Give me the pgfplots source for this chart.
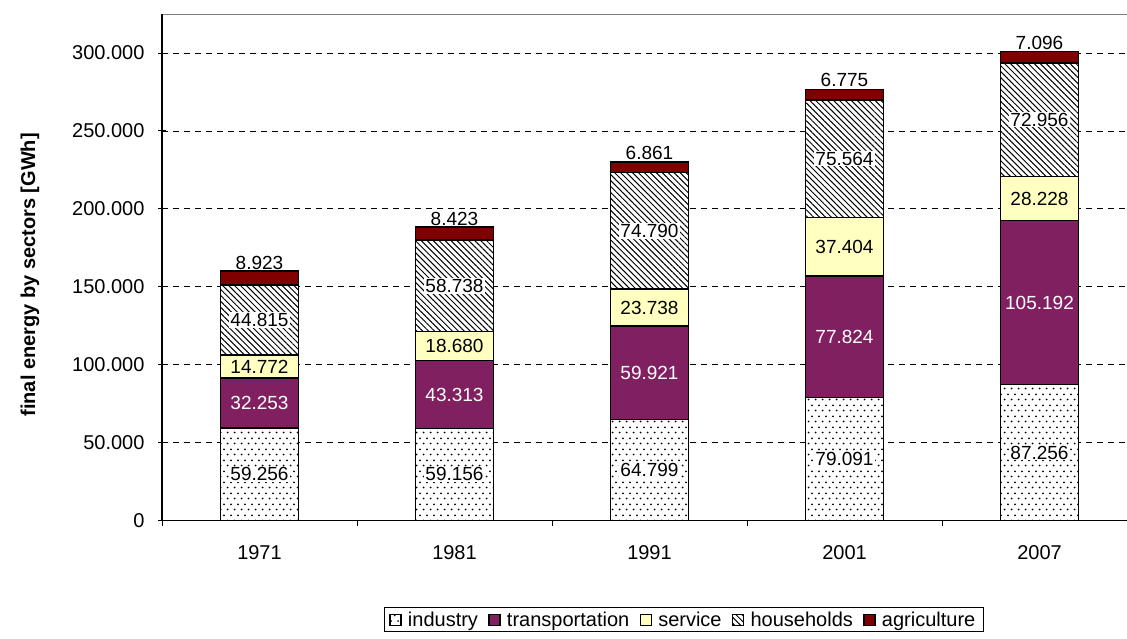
\documentclass[border=0pt]{standalone}
\usepackage{fontspec}
\setmainfont{Liberation Sans}
\usepackage{pgfplots}
\pgfplotsset{compat=1.18}
\usepackage{pgfplotstable}
\usetikzlibrary{patterns,patterns.meta}
\definecolor{trans}{HTML}{802060}
\definecolor{serv}{HTML}{FFFFC0}
\definecolor{agri}{HTML}{800000}
\pgfdeclarepatternformonly{mydots}{\pgfqpoint{0pt}{0pt}}{\pgfqpoint{7.3pt}{10.6pt}}{\pgfqpoint{7.3pt}{10.6pt}}{%
  \pgfpathcircle{\pgfqpoint{1.8pt}{2.6pt}}{1pt}%
  \pgfpathcircle{\pgfqpoint{5.45pt}{7.9pt}}{1pt}%
  \pgfusepath{fill}}
\pgfplotstableread{
x ind tra ser hou agr
0 59.256 32.253 14.772 44.815 8.923
1 59.156 43.313 18.680 58.738 8.423
2 64.799 59.921 23.738 74.790 6.861
3 79.091 77.824 37.404 75.564 6.775
4 87.256 105.192 28.228 72.956 7.096
}\data
\newcommand\fs{\fontsize{20}{24}\selectfont}
\newcommand\fl{\fontsize{19}{23}\selectfont}
\pgfplotsset{
  sq legend/.style={legend image code/.code={%
    \pgfpathrectangle{\pgfpoint{0pt}{-5.5pt}}{\pgfpoint{16pt}{11pt}}\pgfusepath{use as bounding box}%
    \draw[##1] (0pt,-5.5pt) rectangle (11pt,5.5pt);}},
  seg label/.style 2 args={
    point meta=\thisrow{#1},
    nodes near coords={\pgfmathprintnumber[fixed,fixed zerofill,precision=3,assume math mode=true]{\pgfplotspointmeta}},
    every node near coord/.style={font=\fl, anchor=center, #2},
  },
}
\begin{document}
\begin{tikzpicture}
\useasboundingbox (0,0) rectangle (1127pt,639pt);
\clip (0,0) rectangle (1127pt,639pt);
\begin{axis}[
  at={(162pt,118.5pt)}, anchor=south west,
  scale only axis, width=975pt, height=506.5pt,
  xmin=-0.5, xmax=4.5, ymin=0, ymax=325,
  ybar stacked, bar width=0.4,
  xtick={0,...,4}, xticklabels={1971,1981,1991,2001,2007},
  minor xtick={-0.5,0.5,...,4.5},
  ytick={0,50,...,300},
  yticklabels={0,50.000,100.000,150.000,200.000,250.000,300.000},
  tick pos=left,
  major x tick style={draw=none},
  minor tick length=6pt,
  minor x tick style={yshift=-6pt, black, line width=0.8pt},
  major tick length=8pt,
  ytick style={xshift=-4pt, black, line width=0.8pt},
  ymajorgrids,
  major grid style={black, line width=0.7pt, dash pattern=on 6pt off 5pt},
  axis line style={draw=gray, line width=0.9pt},
  yticklabel style={font=\fs, xshift=-14pt},
  xticklabel style={font=\fs, yshift=-22pt},
  ylabel={final energy by sectors [GWh]},
  ylabel style={font=\fs\bfseries, at={(axis description cs:-0.1354,0.485)}, anchor=center},
  legend style={at={(axis description cs:0.535,-0.196)}, anchor=center,
    draw=black, line width=0.8pt, font=\fs, legend columns=5,
    /tikz/every even column/.append style={column sep=9pt}, inner xsep=6pt, inner ysep=2pt},
  legend cell align=left,
  extra description/.code={\draw[black, line width=1.4pt] (0,1) -- (0,0) -- (1,0);},
]
\addplot[sq legend, draw=black, line width=1.3pt, fill=white, postaction={pattern=mydots},
  seg label={ind}{fill=white, inner sep=1pt}] table[x=x,y=ind]{\data};
\addlegendentry{industry}
\addplot[sq legend, draw=black, line width=1.3pt, fill=trans,
  seg label={tra}{text=white}] table[x=x,y=tra]{\data};
\addlegendentry{transportation}
\addplot[sq legend, draw=black, line width=1.3pt, fill=serv,
  seg label={ser}{}] table[x=x,y=ser]{\data};
\addlegendentry{service}
\addplot[sq legend, draw=black, line width=1.3pt, fill=white,
  postaction={pattern={Lines[angle=-45,distance=4.2pt,line width=1pt]}},
  seg label={hou}{fill=white, inner sep=1pt}] table[x=x,y=hou]{\data};
\addlegendentry{households}
\addplot[sq legend, draw=black, line width=1.3pt, fill=agri,
  point meta=\thisrow{agr},
  nodes near coords={\pgfmathprintnumber[fixed,fixed zerofill,precision=3,assume math mode=true]{\pgfplotspointmeta}},
  every node near coord/.style={font=\fl, anchor=south, text=black, yshift=4pt}] table[x=x,y=agr]{\data};
\addlegendentry{agriculture}
\end{axis}
\end{tikzpicture}
\end{document}
